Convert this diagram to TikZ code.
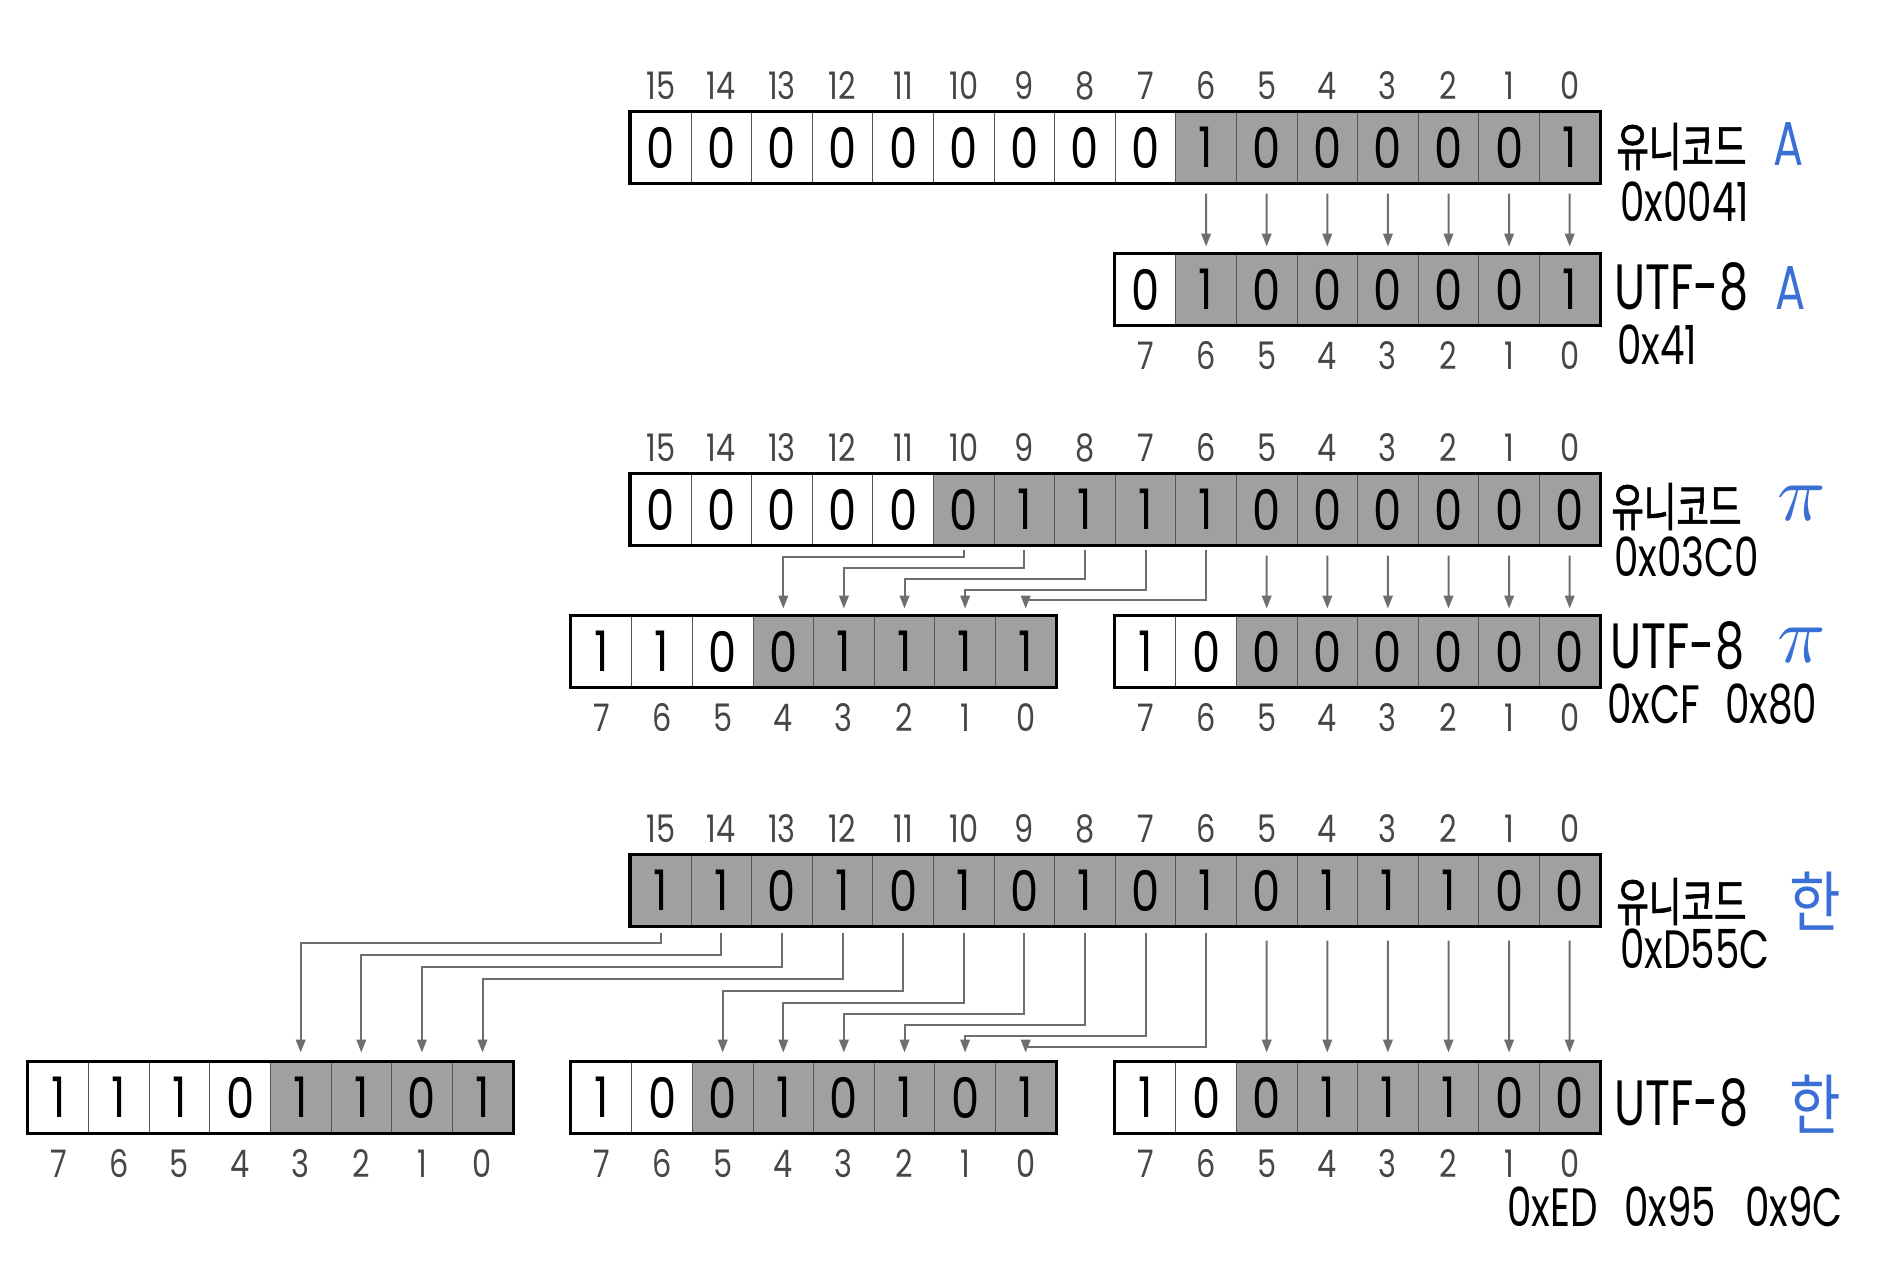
\documentclass[tikz,border=0pt]{standalone}
\usepackage{fontspec}
\setmainfont{Poppins}
\newfontfamily\hand[FakeStretch=0.8]{Poppins}
\newfontfamily\lab[FakeStretch=0.72]{Poppins}
\newfontfamily\kr[FakeStretch=0.68,FakeBold=1.2]{Noto Sans CJK KR}
\newfontfamily\krw[FakeStretch=0.85]{Noto Sans CJK KR}
\usetikzlibrary{arrows.meta}
\definecolor{cellgray}{RGB}{160,160,160}
\definecolor{divgray}{RGB}{85,85,85}
\definecolor{idxgray}{RGB}{70,70,70}
\definecolor{arrowgray}{RGB}{110,110,110}
\definecolor{kblue}{RGB}{58,112,214}
\tikzset{
  bitcell/.style={draw=divgray, line width=0.5pt, minimum width=30.3pt, minimum height=35.5pt,
    inner sep=0pt, font=\hand\fontsize{28}{28}\selectfont},
  regframe/.style={draw=black, line width=1.6pt},
  idx/.style={inner sep=0pt, text=idxgray, font=\hand\fontsize{19}{19}\selectfont},
  conn/.style={draw=arrowgray, line width=1pt, -{Triangle[length=6.5pt,width=4.8pt]}},
  krlab/.style={inner sep=0pt, anchor=base west, font=\kr\fontsize{26}{26}\selectfont},
  enlab/.style={inner sep=0pt, anchor=base west, font=\lab\fontsize{32}{32}\selectfont},
  hexlab/.style={inner sep=0pt, anchor=base west, font=\lab\fontsize{27}{27}\selectfont},
  bluelab/.style={inner sep=0pt, anchor=base west, text=kblue, font=\lab\fontsize{31}{31}\selectfont},
  bluekr/.style={inner sep=0pt, anchor=base west, text=kblue, font=\krw\fontsize{33}{33}\selectfont},
  bluepi/.style={inner sep=0pt, anchor=base west, text=kblue}
}
% prefix, left x, top y, nbits, bits, nwhite
\newcommand\bitreg[6]{%
  \foreach \v [count=\i from 0] in {#5} {%
    \pgfmathtruncatemacro\bb{#4-1-\i}%
    \pgfmathsetmacro\cx{#2+(\i+0.5)*60.6}%
    \ifnum\i<#6\relax\def\cf{white}\else\def\cf{cellgray}\fi
    \node[bitcell, fill=\cf] (#1-\bb) at (\cx,#3+35.5) {\v};
  }%
  \pgfmathtruncatemacro\tb{#4-1}%
  \draw[regframe] (#1-\tb.north west) rectangle (#1-0.south east);
}
\newcommand\topidx[2]{%
  \foreach \bb in {0,...,#2} {\node[idx] (#1t\bb) at ([yshift=13pt]#1-\bb.north) {\bb};}}
\newcommand\botidx[2]{%
  \foreach \bb in {0,...,#2} {\node[idx] (#1b\bb) at ([yshift=-15pt]#1-\bb.south) {\bb};}}
% src, dst, start gap, end gap
\newcommand\straight[4]{\draw[conn] ([yshift=-#3]#1.south) -- ([yshift=#4]#2.north);}
% src, dst, start gap, drop (px), end gap
\newcommand\routed[5]{\draw[conn] ([yshift=-#3]#1.south) -- ++(0,#4) -| ([yshift=#5]#2.north);}

\begin{document}
\begin{tikzpicture}[x=0.5pt,y=-0.5pt]
\useasboundingbox (0,0) rectangle (1891,1263);

% ---------- section 1 : A ----------
\bitreg{U1}{630.4}{112}{16}{0,0,0,0,0,0,0,0,0,1,0,0,0,0,0,1}{9}
\bitreg{A1}{1115.2}{254}{8}{0,1,0,0,0,0,0,1}{1}
\topidx{U1}{15}
\botidx{A1}{7}
\foreach \k in {0,...,6} {\straight{U1-\k}{A1-\k}{5pt}{3.5pt}}

\node[krlab] (L1u) at (1616,166) {유니코드};
\node[bluelab] (L1ua) at (1773,166) {A};
\node[hexlab] (L1uh) at (1620,221) {0x0041};
\node[enlab] (L1t) at (1614,309) {UTF-8};
\node[bluelab] (L1ta) at (1775,309) {A};
\node[hexlab] (L1th) at (1617,364) {0x41};

% ---------- section 2 : pi ----------
\bitreg{U2}{630.4}{474}{16}{0,0,0,0,0,0,1,1,1,1,0,0,0,0,0,0}{5}
\bitreg{P1}{571.2}{616}{8}{1,1,0,0,1,1,1,1}{3}
\bitreg{P2}{1115.2}{616}{8}{1,0,0,0,0,0,0,0}{2}
\topidx{U2}{15}
\botidx{P1}{7}
\botidx{P2}{7}
\routed{U2-10}{P1-4}{2pt}{7}{3.5pt}
\routed{U2-9}{P1-3}{2pt}{18}{3.5pt}
\routed{U2-8}{P1-2}{2pt}{29}{3.5pt}
\routed{U2-7}{P1-1}{2pt}{40}{3.5pt}
\routed{U2-6}{P1-0}{2pt}{50}{3.5pt}
\foreach \k in {0,...,5} {\straight{U2-\k}{P2-\k}{5pt}{3.5pt}}

\node[krlab] (L2u) at (1611,526) {유니코드};
\node[bluepi] (L2up) at (1777,520) {\scalebox{4}{$\pi$}};
\node[hexlab] (L2uh) at (1614,576) {0x03C0};
\node[enlab] (L2t) at (1610,668) {UTF-8};
\node[bluepi] (L2tp) at (1777,662) {\scalebox{4}{$\pi$}};
\node[hexlab] (L2th1) at (1607,723) {0xCF};
\node[hexlab] (L2th2) at (1725,723) {0x80};

% ---------- section 3 : han ----------
\bitreg{U3}{630.4}{855}{16}{1,1,0,1,0,1,0,1,0,1,0,1,1,1,0,0}{0}
\bitreg{H1}{28}{1062}{8}{1,1,1,0,1,1,0,1}{4}
\bitreg{H2}{571.2}{1062}{8}{1,0,0,1,0,1,0,1}{2}
\bitreg{H3}{1115.2}{1062}{8}{1,0,0,1,1,1,0,0}{2}
\topidx{U3}{15}
\botidx{H1}{7}
\botidx{H2}{7}
\botidx{H3}{7}
\routed{U3-15}{H1-3}{3pt}{10}{4.5pt}
\routed{U3-14}{H1-2}{3pt}{22}{4.5pt}
\routed{U3-13}{H1-1}{3pt}{34}{4.5pt}
\routed{U3-12}{H1-0}{3pt}{46}{4.5pt}
\routed{U3-11}{H2-5}{3pt}{58}{4.5pt}
\routed{U3-10}{H2-4}{3pt}{70}{4.5pt}
\routed{U3-9}{H2-3}{3pt}{81}{4.5pt}
\routed{U3-8}{H2-2}{3pt}{92}{4.5pt}
\routed{U3-7}{H2-1}{3pt}{103}{4.5pt}
\routed{U3-6}{H2-0}{3pt}{114}{4.5pt}
\foreach \k in {0,...,5} {\straight{U3-\k}{H3-\k}{7pt}{4.5pt}}

\node[krlab] (L3u) at (1616,921) {유니코드};
\node[bluekr] (L3uh) at (1789,926) {한};
\node[hexlab] (L3ux) at (1620,968) {0xD55C};
\node[enlab] (L3t) at (1614,1125) {UTF-8};
\node[bluekr] (L3th) at (1789,1129) {한};
\node[hexlab] (L3x1) at (1507,1226) {0xED};
\node[hexlab] (L3x2) at (1624,1226) {0x95};
\node[hexlab] (L3x3) at (1745,1226) {0x9C};
\end{tikzpicture}
\end{document}
